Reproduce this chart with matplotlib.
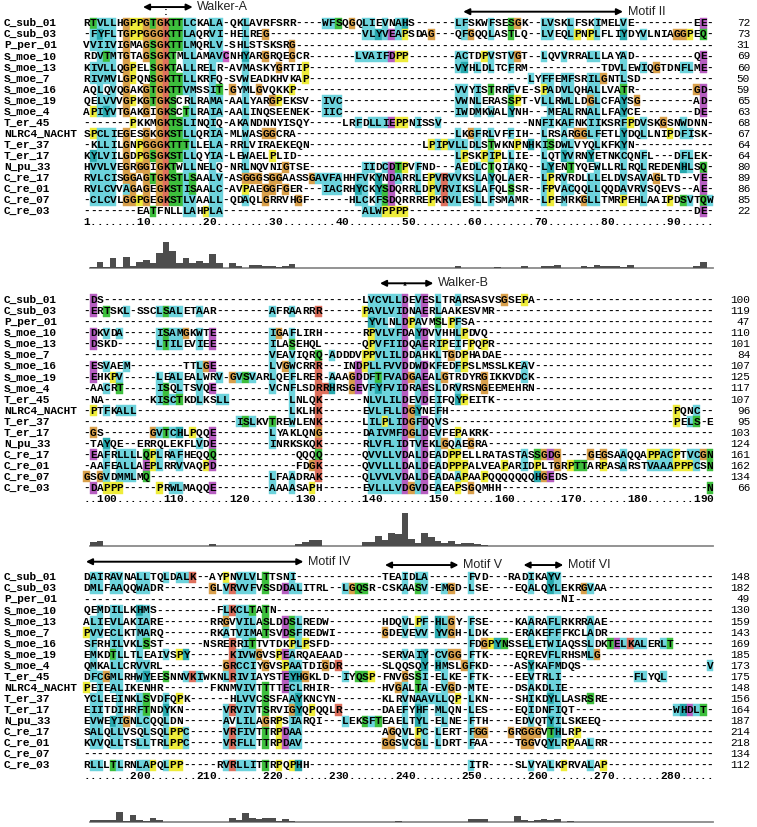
import re
from collections import Counter
import matplotlib
matplotlib.use("Agg")
import matplotlib.pyplot as plt
from matplotlib.patches import Rectangle
from matplotlib.collections import PatchCollection

# ---------------- data ----------------
names = ["C_sub_01", "C_sub_03", "P_per_01", "S_moe_10", "S_moe_13", "S_moe_7",
         "S_moe_16", "S_moe_19", "S_moe_4", "T_er_45", "NLRC4_NACHT", "T_er_37",
         "T_er_17", "N_pu_33", "C_re_17", "C_re_01", "C_re_07", "C_re_03"]

# {n} = run of n gap characters
block1_seqs = [
    "RTVLLHGPPGTGKTTLCKALA-QKLAVRFSRR{4}WFSQGQLIEVNAHS{6}LFSKWFSESGK{2}LVSKLFSKIMELVE{9}EE-",
    "-FYFLTGPPGGGKTTLAQRVI-HELREG{14}VLYVEAPSDAG{3}QFGQQLASTLQ{2}LVEQLPNPLFLIYDYVLNIAGGPEQ-",
    "VVIIVIGMAGSGKTTLMQRLV-SHLSTSKSRG{63}",
    "RDVTMTGTAGSGKTMLLAMAVCNHYARGRQEGCR{7}LVAIFDPP{7}ACTDPVSTVGT{2}LQVVRRALLLAYAD{9}QE-",
    "KIVLLQGPELSGKTALLRELR-AVMASKYGRTIP{22}VYHLDLTCFRM{11}TDVLEWIQGTDNFLME-",
    "RIVMVLGPQNSGKTTLLKRFQ-SVWEADKHVKAP{33}LYFFEMFSRILGNTLSD{11}",
    "AQLQVQGAKGTGKTTVMSSIT-GYMLGVQKKP{24}VVYISTRRFVE-SPADVLQHALLVATR{9}GD-",
    "QELVVVGPKGTGKSCRLRAMA-AALYARGPEKSV{2}IVC{17}VWNLERASSPT-VLLRWLLDGLCFAYSG{8}AD-",
    "APIYVTGAKGIGKSCTLRAIA-AALINQSEENEK{2}IIC{17}IWDMKWALYNH{3}MEALRNALLFAYCE{8}DE-",
    "{7}PKKMGKTSLINQIQ-AKANDNNYISQY{5}LRFDLLIEPPNISSV{13}NNFIKAFNKIIKSRFPDVSKGSNWDNN-",
    "SPCLIEGESGKGKSTLLQRIA-MLWASGGCRA{24}LKGFRLVFFIH{2}LRSARGGLFETLYDQLLNIPDFISK-",
    "-KLLILGNPGGGKTTTLLELA-RRLVIRAEKEQN{17}LPIPVLLDLSTWKNPNHKISDWLVYQLKFKYN{12}",
    "KYLVILGDPGSGKSTLLQYIA-LEWAELPLID{24}LPSKPIPLLIE{2}LQTYVRNYETNKCQNFL{3}DFLEK-",
    "HVVLVEGRGGIGKTWLLNELQ-NRLNQVNIGTSE{8}IIDCDTPVFND{3}AEDLCTQIAKQ{2}LYENTYQEWLLRLRQLREDENHLSQ-",
    "RVLCISGGAGTGKSTLSAALV-ASGGGSGGAASSGAVFAHHFVKYNDARRLEPVRVVKSLAYQLAER{2}LPRVRDLLLELDVSAVAGLTD{2}VE-",
    "RVLCVVAGAGEGKSTISAALC-AVPAEGGFGER{3}IACRHYCKYSDQRRLDPVRVIKSLAFQLSSR{2}FPVACQQLLQQDAVRVSQEVS{2}AE-",
    "-CLCVLGGPGEGKSTLVAALL-QDAQLGRRVHGF{6}HLCKFSDQRRREPKRVLESLLFSMAMR{2}LPEMRKGLLTMRPEHLAAIPDSVTQW",
    "{8}EATFNLLLAHPLA{21}ALWPPPP{43}DE-",
]
block2_seqs = [
    "-DS{39}LVCVLLDEVESLTRARSASVSGSEPA{27}",
    "-ERTSKL-SSCLSALETAAR{8}AFRAARRR{6}PAVLVIDNAERLAAKESVMR{33}",
    "{43}YVLNLDPAVMSLPFSA{36}",
    "-DKVDA{5}ISAMGKWTE{8}IGAFLIRH{6}RPVLVFDAYDVVHHLPDVQ{34}",
    "-DSKD{6}LTILEVIEE{8}ILASEHQL{6}QPVFIIDQAERIPEIFPQPR{33}",
    "{28}VEAVIQRQ-ADDDVPPVLILDDAHKLTGDPHADAE{32}",
    "-ESVAEM{8}TTLGE{8}LVGWCRRR{3}INDPLLFVVDDWDKFEDFPSLMSSLKEAV{27}",
    "-EHKPV{5}LEALEALWRV-GVSVARLQEFLRER-AAAGDDFTFVADGAEALGTRDYRGIKKVDCK{27}",
    "-AACRT{5}ISQLTSVQE{8}VCNFLSDRRHRSGEVFYFVIDRAESLDRVRSNGEEMEHRN{27}",
    "-NA{7}KISCTKDLKSLL{9}LNLQK{6}NLVLILDEVDEIFQYPEITK{33}",
    "-PTFKALL{23}LKLHK{6}EVLFLLDGYNEFH{34}PQNC--",
    "{23}ISLKVTREWLENK{6}LILPLIDGFDQVS{34}PELS-E",
    "-GS{7}GVTCHLPQQE{8}LYAKLQNG{6}DAIVMFDGLDEVFEPAKRK{34}",
    "-TAYQE--ERRQLEKFLVDE{8}INRKSKQK{6}RLVFLIDTVEKLGQAEGRA{34}",
    "-EAFRLLLLQPLRAFHEQQQ{12}QQQQ{6}QVVLLVDALDEADPPELLRATASTASSGDG{4}GEGSAAQQAPPACPTVCGN",
    "-AAFEALLAEPLRRVVAQPD{12}FDGK{6}QVVLLLDALDEADPPPALVEAPARIDPLTGRPTTARPASARSTVAAAPPPCSN",
    "GSGVDMMLMQ{18}LFAADRAK{6}QLVVLVDALDEADAAPAAPQQQQQQQHGEDS{22}",
    "-DAPPP{5}PRWLMAQQE{8}AAAASAPH{6}EVLLLVDGVDEAEAPSGQMHH{31}N",
]
block3_seqs = [
    "DAIRAVNALLTQLDALK--AYPNVLVLTTSNI{13}TEAIDLA{6}FVD---RADIKAYV{23}",
    "DMLFAAQQWADR{7}GLVRVVFVSSDDALITRL--LGQSR-CSKAASV-EMGD-LSE----EQALQYLEKRGVAA{16}",
    "{72}NI{21}",
    "QEMDILLKHMS{9}FLKCLTATN{66}",
    "ALIEVLAKIARE{7}RRGVVILASLDDSLREDW{8}HDQVLPF-HLGY-FSE----KAARAFLRKRRAAE{16}",
    "PVVECLKTMARQ{7}RKATVIMATSVDSFREDWI{7}GDEVEVV-YVGH-LDK----ERAKEFFFKCLADR{16}",
    "SFRHILVKLSST{6}NSRERRITTVTDKPLPSFD{21}FDGPYNSSELETWIAQSSLDKTELKALERLT{6}",
    "EMKDTLLTLEAIVSPY{6}KIVWGVSPEARQAEAAD{6}SERVAIY-CVGG-FTK----EQREVFLRHSMLG{17}",
    "QMKALLCRVVRL{9}GRCCIYGVSPAATDIGDR{6}SLQQSQY-HMSLGFKD----ASYKAFMDQS{19}V",
    "DFCGMLRHWYEESNNVKIWKNLRIVIAYSTEYHGKLD--IYQSP-FNVGSSI-ELKE-FTK----EEVTRLI{11}FLYQL{7}",
    "PEIEALIKENHR{7}FKNMVIVTTTTECLRHIR{8}HVGALTA-EVGD-MTE----DSAKDLIE{22}",
    "YCLEEINKLSVDFQPK{6}HLVVCSSFAAYKNCYN{7}KLRVNAAVLLQP-LKN----SHIKDYLLASRSRE{16}",
    "EIITDIHRFTNDYKN{6}VRVIVTSRVIGYQPQQLR{6}DAEFYHF-MLQN-LES----EQIDNFIQT{15}WHDLT-",
    "EVWEYIGNLCQQLDN{6}AVLILAGRPSIARQI---LEKSFTEAELTYL-ELNE-FTH----EDVQTYILSKEEQ{17}",
    "SALQLLVSQLSQLPPC{5}VRFIVTTRPDAA{12}AGQVLPC-LERT-FGG---GRGGGVTHLRP{20}",
    "KVVQLLTSLLTRLPPC{5}VRFLLTTRPDAV{12}GGSVCGL-LDRT-FAA----TGGVQYLRPAALRR{16}",
    "{95}",
    "RLLLTLRNLAPQLPP{5}RVRLLITTRPQPHH{24}ITR----SLVYALKPRVALAP{16}",
]

block1_ends = [72, 73, 31, 69, 60, 50, 59, 65, 63, 68, 67, 64, 64, 80, 89, 86, 85, 22]
block2_ends = [100, 119, 47, 110, 101, 84, 107, 125, 117, 107, 96, 95, 103, 124, 161, 162, 134, 66]
block3_ends = [148, 182, 49, 130, 159, 143, 169, 185, 173, 175, 148, 156, 164, 187, 214, 218, 134, 112]

block_first_cols = [1, 96, 191]

# conservation histogram, one value per alignment column
block1_cons = [0, .45, 2.2, .45, 3.6, .45, 3.9, .9, 2.2, 2.9,
               1.8, 5.0, 8.9, 5.9, 1.8, 3.3, 1.8, 2.6, 1.8, 4.7,
               1.8, 0, 1.8, .7, .2, 1.0, 1.0, .7, .7, .3,
               .7, 1.3, 0, 0, 0, 0, 0, 0, 0, 0,
               0, 0, 0, 0, 0, 0, 0, 0, 0, 0,
               0, 0, 0, 0, 0, 0, .67, 0, .22, .22,
               0, 0, .33, 0, 0, 0, .67, 0, 0, .67,
               .67, 1.0, 0, .22, .22, .67, .33, 1.0, .67, .67,
               .67, .33, 1.0, 0, 0, 0, 0, 0, 0, 0,
               0, 0, .67, 2.2, 0]
block2_cons = [0, 1.1, 1.6, 0, 0, 0, 0, 0, 0, 0,
               0, 0, 0, 0, 0, 0, 0, 0, 0, .45,
               0, 0, 0, 0, 0, 0, 0, 0, 0, 0,
               0, 0, .45, 1.2, 2.0, 2.0, 0, 0, 0, 0,
               0, 0, 1.1, 1.1, 3.4, 2.0, 4.1, 3.9, 10.8, 2.1,
               .8, 4.1, 2.8, 1.6, .8, 1.6, .55, .8, .8, .45,
               .35, 0, 0, 0, 0, 0, 0, 0, 0, 0,
               0, 0, 0, 0, 0, 0, 0, 0, 0, 0,
               0, 0, 0, 0, 0, 0, 0, 0, 0, 0,
               0, 0, 0, 0, 0]
block3_cons = [0, .7, .7, .7, .7, 3.4, .35, 2.3, .7, .45,
               1.6, .7, 0, 0, 0, 0, 0, 0, 0, 0,
               0, 0, 1.6, .9, 3.1, 1.6, 1.1, 1.6, 1.6, .35,
               1.1, .35, 0, 0, 0, 0, 0, 0, 0, 0,
               0, 0, 0, 0, 0, 0, 0, .45, 0, 0,
               0, 0, 0, 0, 0, 0, 0, 0, 1.2, 1.2,
               1.2, 0, 0, 0, 0, 2.0, .8, .35, .7, 1.0,
               .7, 1.1, 0, .35, 0, 0, 0, 0, 0, 0,
               0, 0, 0, 0, 0, 0, 0, 0, 0, 0,
               0, 0, 0, 0, 0]

# motif arrows: (block, from column, to column, label, row offset above first row)
motifs = [
    (0, 9.5, 17.0, "Walker-A", -1.47),
    (0, 57.8, 81.9, "Motif II", -1.05),
    (1, 45.25, 53.3, "Walker-B", -1.51),
    (2, 0.9, 33.7, "Motif IV", -1.41),
    (2, 46.0, 57.1, "Motif V", -1.11),
    (2, 66.9, 72.9, "Motif VI", -1.11),
]
marks = [(0, 13, ":", -1.0), (1, 49, "*", -1.15)]

# ---------------- colouring (ClustalX rules) ----------------
PALETTE = {
    "blue": "#6dd3dc", "cyan": "#27a8ad", "green": "#3dbf3d", "orange": "#d9a04b",
    "yellow": "#eeec3a", "magenta": "#b65dc0", "red": "#de705d", "pink": "#cc62c8",
}
HYDRO = set("WLVIMAFCYHP")
HYD_COND = ["%", "#", "A", "C", "F", "H", "I", "L", "M", "V", "W", "Y", "P", "p"]
RULES = {
    "G": [("orange", None)],
    "P": [("yellow", None)],
    "T": [("green", ["t", "%", "#"])],
    "S": [("green", ["t", "%", "#"])],
    "N": [("green", ["n", "D"])],
    "Q": [("green", ["q", "+", "K", "R", "Q"])],
    "A": [("blue", HYD_COND + ["T", "S", "G"])],
    "C": [("pink", ["C"]), ("blue", ["%", "#", "A", "F", "H", "I", "L", "M", "V", "W", "Y", "S", "P", "p"])],
    "H": [("cyan", HYD_COND)],
    "Y": [("cyan", HYD_COND)],
    "E": [("magenta", ["-", "D", "E", "q", "Q"])],
    "D": [("magenta", ["-", "D", "E", "n", "N"])],
    "K": [("red", ["+", "K", "R", "Q"])],
    "R": [("red", ["+", "K", "R", "Q"])],
}
for aa in "WLVIMF":
    RULES[aa] = [("blue", HYD_COND)]


def expand(s):
    s = re.sub(r"\{(\d+)\}", lambda m: "-" * int(m.group(1)), s)
    return s.ljust(95, "-")[:95]


def consensus(column):
    res = [c for c in column if c != "-"]
    n = len(res)
    cons = set()
    if n == 0:
        return cons
    cnt = Counter(res)
    frac = lambda group: sum(cnt[c] for c in group) / n
    if frac(HYDRO) > 0.6:
        cons.add("%")
    if frac(HYDRO) > 0.8:
        cons.add("#")
    if frac("ED") > 0.5:
        cons.add("-")
    if frac("KR") > 0.6:
        cons.add("+")
    if frac("G") > 0.5:
        cons.add("g")
    if frac("N") > 0.5:
        cons.add("n")
    if frac("QE") > 0.5:
        cons.add("q")
    if frac("P") > 0.5:
        cons.add("p")
    if frac("TS") > 0.5:
        cons.add("t")
    for a, k in cnt.items():
        if k / n > 0.85:
            cons.add(a)
    return cons


def colour_of(ch, cons):
    for col, cond in RULES.get(ch, []):
        if cond is None or any(c in cons for c in cond):
            return PALETTE[col]
    return None


def ruler(first):
    chars = ["."] * 95
    if first == 1:
        chars[0] = "1"
    for c in range(first, first + 95):
        if c % 10 == 0:
            s = str(c)
            for i, d in enumerate(s):
                pos = c - len(s) + 1 + i - first
                if 0 <= pos < 95:
                    chars[pos] = d
    return "".join(chars)


# ---------------- layout ----------------
W_PX, H_PX = 757, 827
X0_PX, CW_PX, RH_PX = 83.3, 6.63, 11.06
XLIM = (0.5 - X0_PX / CW_PX, 0.5 + (W_PX - X0_PX) / CW_PX)
ROW0_PX = [23.3, 300.0, 577.3]
BASE_PX = [268.3, 545.7, 822.3]
MONO = "Liberation Mono"
SANS = "Liberation Sans"

fig = plt.figure(figsize=(W_PX / 100, H_PX / 100), dpi=100)

blocks = [block1_seqs, block2_seqs, block3_seqs]
ends = [block1_ends, block2_ends, block3_ends]
conss = [block1_cons, block2_cons, block3_cons]

for b in range(3):
    seqs = [expand(s) for s in blocks[b]]
    top_px = ROW0_PX[b] - 2.5 * RH_PX
    bot_px = ROW0_PX[b] + 19 * RH_PX
    ax = fig.add_axes([0, 1 - bot_px / H_PX, 1, (bot_px - top_px) / H_PX])
    ax.set_xlim(*XLIM)
    ax.set_ylim(19, -2.5)
    ax.axis("off")
    ax.patch.set_visible(False)

    rects, fcs = [], []
    for j in range(95):
        column = [s[j] for s in seqs]
        cons = consensus(column)
        for r, ch in enumerate(column):
            c = colour_of(ch, cons)
            if c:
                rects.append(Rectangle((j + 0.5, r - 0.5), 1, 1))
                fcs.append(c)
    ax.add_collection(PatchCollection(rects, facecolors=fcs, edgecolors=fcs,
                                      linewidths=0.3, zorder=1))

    for r, s in enumerate(seqs):
        for j, ch in enumerate(s):
            ax.text(j + 1, r, ch, ha="center", va="center", family=MONO,
                    fontsize=8, fontweight="bold", zorder=3)
        ax.text(XLIM[0] + 4 / CW_PX, r, names[r], ha="left", va="center",
                family=MONO, fontsize=8, fontweight="bold")
        ax.text(0.5 + (750 - X0_PX) / CW_PX, r, str(ends[b][r]), ha="right",
                va="center", family=MONO, fontsize=8)

    rl = ruler(block_first_cols[b])
    for j, ch in enumerate(rl):
        ax.text(j + 1, 18, ch, ha="center", va="center", family=MONO,
                fontsize=8, fontweight="bold")

    for (mb, x0, x1, label, yrow) in motifs:
        if mb != b:
            continue
        ax.annotate("", xy=(x1, yrow), xytext=(x0, yrow),
                    arrowprops=dict(arrowstyle="<|-|>", color="black", lw=1.4,
                                    mutation_scale=9, shrinkA=0, shrinkB=0))
        ax.text(x1 + 0.7, yrow, label, ha="left", va="center", family=SANS,
                fontsize=9, color="#222222")
    for (mb, xc, sym, yrow) in marks:
        if mb == b:
            ax.text(xc, yrow, sym, ha="center", va="center", family=MONO,
                    fontsize=7, fontweight="bold")

    # conservation histogram
    axh = fig.add_axes([0, 1 - BASE_PX[b] / H_PX, 1, 40 / H_PX])
    axh.set_xlim(*XLIM)
    axh.set_ylim(0, 40 / 3)
    axh.axis("off")
    axh.patch.set_visible(False)
    axh.bar(range(1, 96), conss[b], width=1, color="#4d4d4d", linewidth=0, zorder=2)
    axh.plot([1.5, 95.5], [0, 0], color="#8a8a8a", lw=1.3, clip_on=False, zorder=1)

fig.savefig("out.png", dpi=100)
